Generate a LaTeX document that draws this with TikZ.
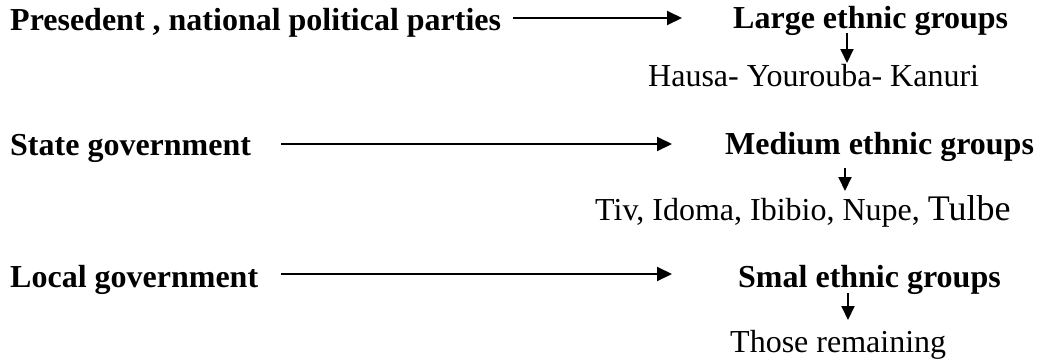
\documentclass[tikz,border=0pt]{standalone}
\usepackage{fontspec}
\setmainfont{Liberation Serif}
\usetikzlibrary{arrows.meta}
\begin{document}
\begin{tikzpicture}[x=1pt,y=-1pt,
  txt/.style={inner sep=0pt, anchor=base west, font=\fontsize{32}{38}\selectfont},
  btxt/.style={inner sep=0pt, anchor=base west, font=\fontsize{32}{38}\selectfont\bfseries},
  longarr/.style={line width=2pt, -{Triangle[length=15pt,width=14pt]}},
  smallarr/.style={line width=2pt, -{Triangle[length=14pt,width=13pt]}}]
\useasboundingbox (0,0) rectangle (1037,362);
% row 1
\node[btxt] (p1) at (10,30) {Presedent , national political parties};
\node[btxt] (g1) at (733,28) {Large ethnic groups};
\node[txt]  (m1) at (648,86) {Hausa- Yourouba- Kanuri};
% row 2
\node[btxt] (p2) at (10,155) {State government};
\node[btxt] (g2) at (725,154) {Medium ethnic groups};
\node[txt]  (m2) at (595,220) {Tiv, Idoma, Ibibio, Nupe, {\fontsize{36}{40}\selectfont Tulbe}};
% row 3
\node[btxt] (p3) at (10,287) {Local government};
\node[btxt] (g3) at (738,287) {Smal ethnic groups};
\node[txt]  (m3) at (730,352) {Those remaining};
% long arrows
\draw[longarr] ([xshift=12pt,yshift=12pt]p1.base east) -- ([xshift=-51pt,yshift=10pt]g1.base west);
\draw[longarr] ([xshift=30pt,yshift=11pt]p2.base east) -- ([xshift=-53pt,yshift=10pt]g2.base west);
\draw[longarr] ([xshift=23pt,yshift=13pt]p3.base east) -- ([xshift=-66pt,yshift=13pt]g3.base west);
% small arrows
\draw[smallarr] ([xshift=114pt,yshift=-5pt]g1.base west) -- ([xshift=199pt,yshift=23pt]m1.base west);
\draw[smallarr] ([xshift=120pt,yshift=-14pt]g2.base west) -- ([xshift=250pt,yshift=29pt]m2.base west);
\draw[smallarr] ([xshift=110pt,yshift=-6pt]g3.base west) -- ([xshift=118pt,yshift=32pt]m3.base west);
\end{tikzpicture}
\end{document}
